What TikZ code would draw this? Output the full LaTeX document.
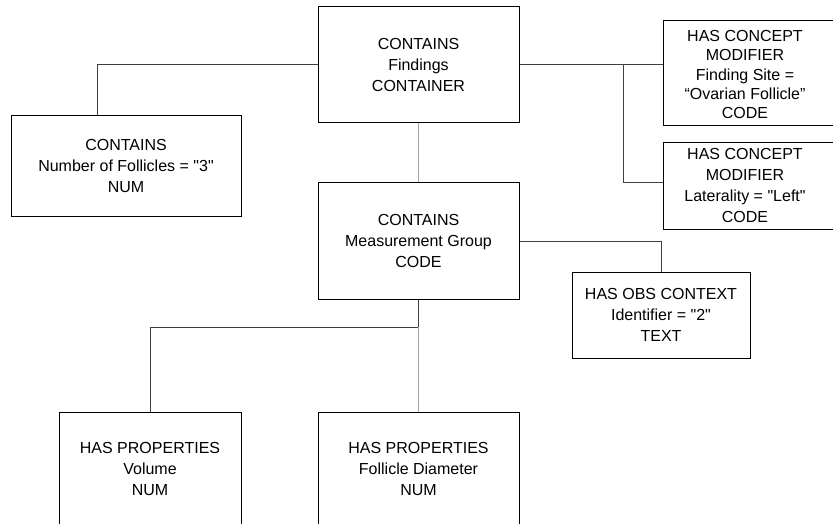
\documentclass[tikz,border=0pt]{standalone}
\usepackage{fontspec}
\setmainfont{Liberation Sans}
\usetikzlibrary{calc}
\newcommand{\dq}{\textquotedbl}
\begin{document}
\begin{tikzpicture}[x=1pt,y=-1pt,
  box/.style={draw=black,line width=1pt,rectangle,inner sep=0pt,align=center,font=\fontsize{16}{21}\selectfont},
  txt/.style={inner sep=0pt,align=center,font=\fontsize{16}{21}\selectfont},
  link/.style={draw=black!75,line width=1pt},
  glink/.style={draw=black!35,line width=1pt}]
\useasboundingbox (0,0) rectangle (833,524);
\clip (0,0) rectangle (833,524);
\node[box,minimum width=201pt,minimum height=116pt] (top) at (418.5,65) {CONTAINS\\Findings\\CONTAINER};
\node[box,minimum width=230pt,minimum height=100pt] (lb) at (126,166) {CONTAINS\\Number of Follicles = \dq3\dq\\NUM};
\node[box,minimum width=201pt,minimum height=116pt] (mid) at (418.5,241) {CONTAINS\\Measurement Group\\CODE};
\node[box,minimum width=190pt,minimum height=105pt] (m1) at (758,73.5) {};
\node[txt,font=\fontsize{16}{19.2}\selectfont] (m1t) at (745,74.5) {HAS CONCEPT\\MODIFIER\\Finding Site =\\“Ovarian Follicle”\\CODE};
\node[box,minimum width=190pt,minimum height=86pt] (m2) at (758,186) {};
\node[txt] (m2t) at (745,185.5) {HAS CONCEPT\\MODIFIER\\Laterality = \dq Left\dq\\CODE};
\node[box,minimum width=178pt,minimum height=86pt] (obs) at (661,315) {HAS OBS CONTEXT\\Identifier = \dq2\dq\\TEXT};
\node[box,minimum width=182pt,minimum height=114pt] (vol) at (150,469) {HAS PROPERTIES\\Volume\\NUM};
\node[box,minimum width=201pt,minimum height=114pt] (fd) at (418.5,469) {HAS PROPERTIES\\Follicle Diameter\\NUM};
\coordinate (j1) at (97,65);
\coordinate (j2) at (623,65);
\coordinate (j3) at (418.5,327);
\draw[link] (top.west) -- (j1) -- (j1 |- lb.north);
\draw[link] (top.east) -- (top.east -| m1.west);
\draw[link] (j2) |- ([yshift=3pt]m2.west);
\draw[link] (mid.east) -| (obs.north);
\draw[link] (mid.south) -- (j3) -| (vol.north);
\draw[glink] (top.south) -- (mid.north);
\draw[glink] (j3) -- (fd.north);
\end{tikzpicture}
\end{document}
